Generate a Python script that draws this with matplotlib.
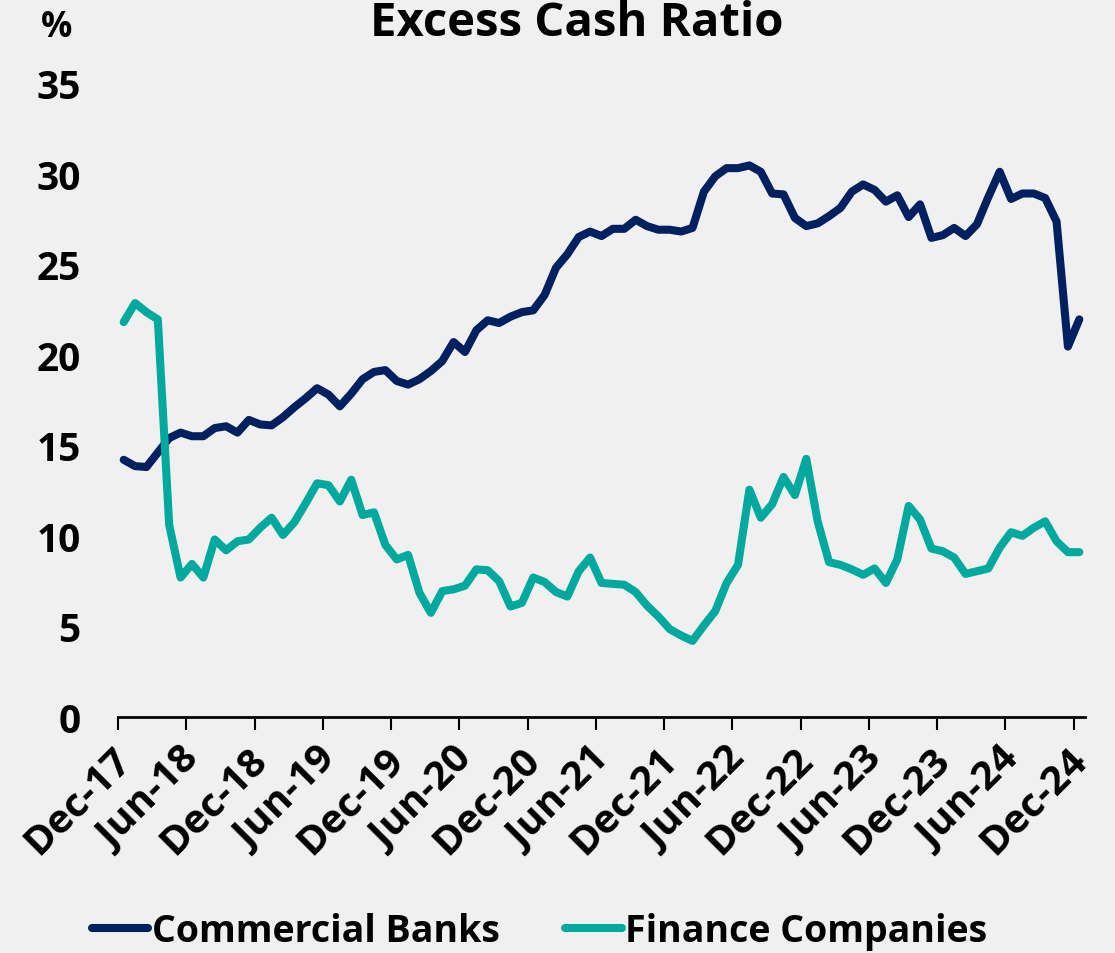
import numpy as np
import matplotlib.pyplot as plt
import matplotlib.transforms as mtransforms

# monthly, Dec-17 .. Dec-24
commercial_banks = [
    14.2, 13.85, 13.8, 14.6, 15.4, 15.7, 15.5, 15.5, 15.95, 16.05,
    15.7, 16.4, 16.15, 16.1, 16.55, 17.1, 17.6, 18.15, 17.8, 17.15,
    17.85, 18.65, 19.05, 19.15, 18.55, 18.35, 18.65, 19.1, 19.65, 20.7,
    20.15, 21.35, 21.9, 21.75, 22.1, 22.35, 22.45, 23.3, 24.8, 25.55,
    26.5, 26.8, 26.55, 26.95, 26.95, 27.45, 27.1, 26.9, 26.9, 26.8,
    27.0, 29.0, 29.85, 30.3, 30.3, 30.45, 30.1, 28.9, 28.85, 27.55,
    27.1, 27.25, 27.65, 28.1, 29.0, 29.4, 29.1, 28.45, 28.8, 27.6,
    28.3, 26.45, 26.6, 27.0, 26.55, 27.2, 28.7, 30.1, 28.6, 28.9,
    28.9, 28.65, 27.35, 20.45, 21.95,
]
finance_companies = [
    21.8, 22.85, 22.35, 21.95, 10.6, 7.7, 8.45, 7.7, 9.8, 9.2,
    9.7, 9.8, 10.45, 11.0, 10.05, 10.75, 11.8, 12.9, 12.8, 11.9,
    13.1, 11.15, 11.3, 9.5, 8.7, 8.95, 6.85, 5.75, 6.95, 7.05,
    7.25, 8.15, 8.1, 7.5, 6.1, 6.3, 7.7, 7.45, 6.9, 6.65,
    8.05, 8.8, 7.4, 7.35, 7.3, 6.9, 6.15, 5.55, 4.85, 4.5,
    4.2, 5.05, 5.85, 7.4, 8.4, 12.55, 11.0, 11.75, 13.25, 12.25,
    14.25, 10.8, 8.55, 8.4, 8.15, 7.85, 8.2, 7.4, 8.7, 11.65,
    10.9, 9.3, 9.15, 8.8, 7.9, 8.05, 8.2, 9.35, 10.2, 10.0,
    10.45, 10.8, 9.7, 9.1, 9.1,
]
tick_labels = ["Dec-17", "Jun-18", "Dec-18", "Jun-19", "Dec-19", "Jun-20",
               "Dec-20", "Jun-21", "Dec-21", "Jun-22", "Dec-22", "Jun-23",
               "Dec-23", "Jun-24", "Dec-24"]

navy = "#002060"
teal = "#00A99D"
bg = "#f0f0f0"

plt.rcParams['font.family'] = ['Open Sans', 'DejaVu Sans']
plt.rcParams['font.weight'] = 'bold'

fig = plt.figure(figsize=(11.15, 9.54), dpi=100, facecolor=bg)
ax = fig.add_axes([118/1115, 1 - 718/954, (1085-118)/1115, (718-84)/954])
ax.set_facecolor(bg)

x = np.arange(len(commercial_banks))
ax.plot(x, commercial_banks, color=navy, lw=5.8, solid_capstyle='round',
        solid_joinstyle='round', label="Commercial Banks")
ax.plot(x, finance_companies, color=teal, lw=5.8, solid_capstyle='round',
        solid_joinstyle='round', label="Finance Companies")

ax.set_xlim(-0.5, len(x) - 0.5)
ax.set_ylim(0, 35)
ax.set_yticks(np.arange(0, 36, 5))
tick_pos = np.arange(0, len(x), 6) - 0.5
ax.set_xticks(tick_pos)
ax.set_xticklabels([])
# slanted month labels, hung just below and slightly right of each tick
lab_tr = ax.get_xaxis_transform() + mtransforms.ScaledTranslation(
    7/100, -36/100, fig.dpi_scale_trans)
for pos, lab in zip(tick_pos, tick_labels):
    ax.text(pos, 0, lab, transform=lab_tr, rotation=45, ha='right',
            va='center', rotation_mode='anchor', fontsize=29,
            fontweight='bold', clip_on=False)
for lab in ax.get_yticklabels():
    lab.set_fontsize(28)
    lab.set_fontweight('bold')

for s in ['top', 'right', 'left']:
    ax.spines[s].set_visible(False)
ax.spines['bottom'].set_linewidth(2)
ax.tick_params(axis='y', length=0, pad=27)
ax.tick_params(axis='x', length=9, width=1.5, direction='out')

fig.text(577/1115, 1 - 24/954, "Excess Cash Ratio", ha='center', va='center',
         fontsize=34, fontweight='bold')
fig.text(57/1115, 1 - 28/954, "%", ha='center', va='center',
         fontsize=25, fontweight='bold')

fig.legend(loc='center', bbox_to_anchor=(0.484, 1 - 932/954), ncol=2,
           frameon=False, handlelength=1.5, handletextpad=0.1,
           columnspacing=1.75, prop={'size': 27, 'weight': 'bold'})

plt.savefig("out.png", dpi=100, facecolor=bg)
